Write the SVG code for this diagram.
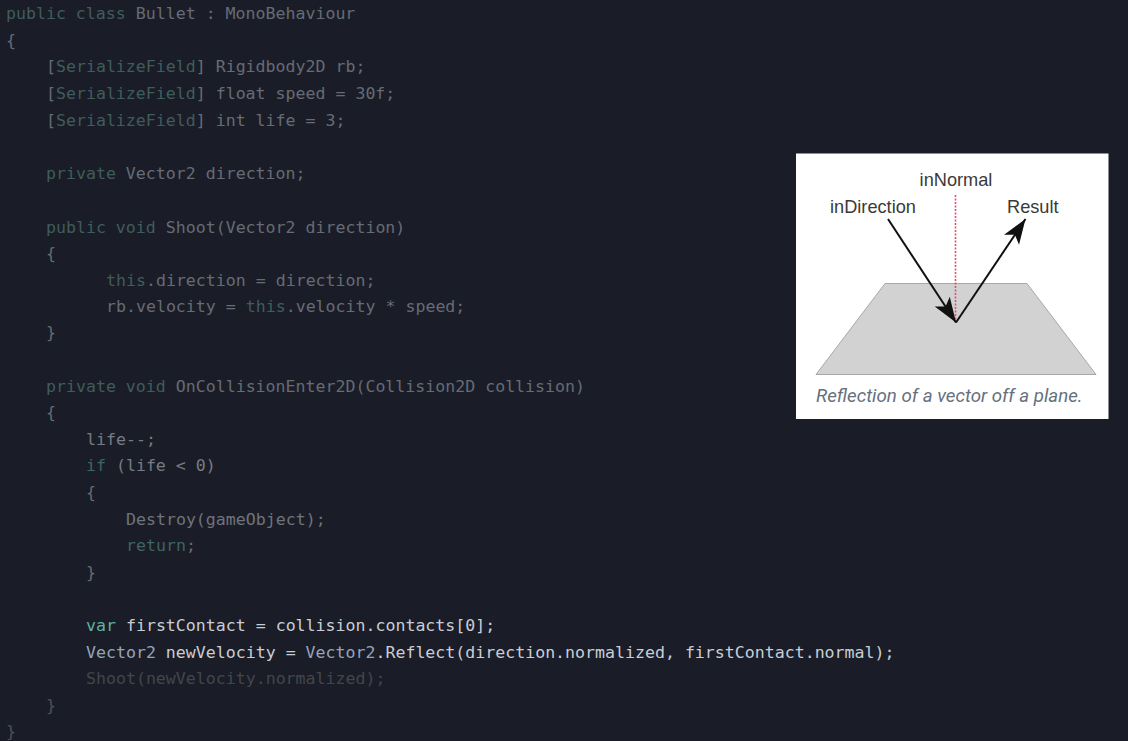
<svg xmlns="http://www.w3.org/2000/svg" width="1128" height="741" viewBox="0 0 1128 741">
<style>
text{white-space:pre}
.c{font-family:"DejaVu Sans Mono","Liberation Mono",monospace;font-size:16.59px;fill:#666b75}
.k{fill:#3f5c5c}
.a{fill:#3e6463}
.l{font-family:"Liberation Sans",Arial,sans-serif;font-size:18.2px;fill:#3a3a3a}
.cap{font-family:Roboto,"Liberation Sans",sans-serif;font-style:italic;font-size:18.7px;fill:#66707e}
</style>
<defs>
<marker id="ah" viewBox="0 0 40 30" refX="38" refY="15" markerUnits="userSpaceOnUse" markerWidth="40" markerHeight="30" orient="auto"><path d="M38 15L13 6L19 15L13 24Z" fill="#111111"/></marker>
</defs>
<rect width="1128" height="741" fill="#1a1d27"/>
<g id="code">
<text class="c" x="6" y="19"><tspan class="k">public class</tspan> Bullet : MonoBehaviour</text>
<text class="c" x="6" y="46">{</text>
<text class="c" x="46" y="72">[<tspan class="k">SerializeField</tspan>] Rigidbody2D rb;</text>
<text class="c" x="46" y="99">[<tspan class="k">SerializeField</tspan>] float speed = 30f;</text>
<text class="c" x="46" y="126">[<tspan class="k">SerializeField</tspan>] int life = 3;</text>
<text class="c" x="46" y="179"><tspan class="k">private</tspan> Vector2 direction;</text>
<text class="c" x="46" y="233"><tspan class="k">public void</tspan> Shoot(Vector2 direction)</text>
<text class="c" x="46" y="259">{</text>
<text class="c" x="106" y="286"><tspan class="k">this</tspan>.direction = direction;</text>
<text class="c" x="106" y="312">rb.velocity = <tspan class="k">this</tspan>.velocity * speed;</text>
<text class="c" x="46" y="338">}</text>
<text class="c" x="46" y="392"><tspan class="k">private void</tspan> OnCollisionEnter2D(Collision2D collision)</text>
<text class="c" x="46" y="418">{</text>
<text class="c" x="86" y="445" style="fill:#777b83">life--;</text>
<text class="c" x="86" y="471" style="fill:#777b83"><tspan class="a">if</tspan> (life &lt; 0)</text>
<text class="c" x="86" y="498">{</text>
<text class="c" x="126" y="525" style="fill:#6f737c">Destroy(gameObject);</text>
<text class="c" x="126" y="551"><tspan class="a">return</tspan>;</text>
<text class="c" x="86" y="578">}</text>
<text class="c" x="86" y="631" style="fill:#c9ced6"><tspan style="fill:#5fb3a1">var</tspan> firstContact = collision.contacts[0];</text>
<text class="c" x="86" y="658" style="fill:#c9ced6"><tspan style="fill:#94a5ba">Vector2</tspan> newVelocity = <tspan style="fill:#94a5ba">Vector2</tspan>.Reflect(direction.normalized, firstContact.normal);</text>
<text class="c" x="86" y="684" style="fill:#43454c">Shoot(newVelocity.normalized);</text>
<text class="c" x="46" y="711" style="fill:#4e5058">}</text>
<text class="c" x="6" y="737" style="fill:#4e5058">}</text>
</g>
<g id="figure">
<rect x="796" y="153.500" width="312.500" height="265.500" fill="#ffffff"/>
<polygon points="885,283.500 1027,283.500 1096,374.500 816,374.500" fill="#d2d2d2" stroke="#a8a8a8" stroke-width="1"/>
</g>
<g id="connectors">
<line x1="955.500" y1="195" x2="955.500" y2="321" stroke="#e0506c" stroke-width="1.600" stroke-dasharray="2 1.500"/>
<line x1="888" y1="219" x2="956" y2="322.500" stroke="#111111" stroke-width="2" marker-end="url(#ah)"/>
<line x1="956" y1="322.500" x2="1025.500" y2="219" stroke="#111111" stroke-width="2" marker-end="url(#ah)"/>
</g>
<g id="inNormal"><text class="l" x="956" y="186" text-anchor="middle">inNormal</text></g>
<g id="inDirection"><text class="l" x="830" y="212.500">inDirection</text></g>
<g id="Result"><text class="l" x="1007" y="212.500">Result</text></g>
<g id="caption"><text class="cap" x="816" y="402">Reflection of a vector off a plane.</text></g>
</svg>
